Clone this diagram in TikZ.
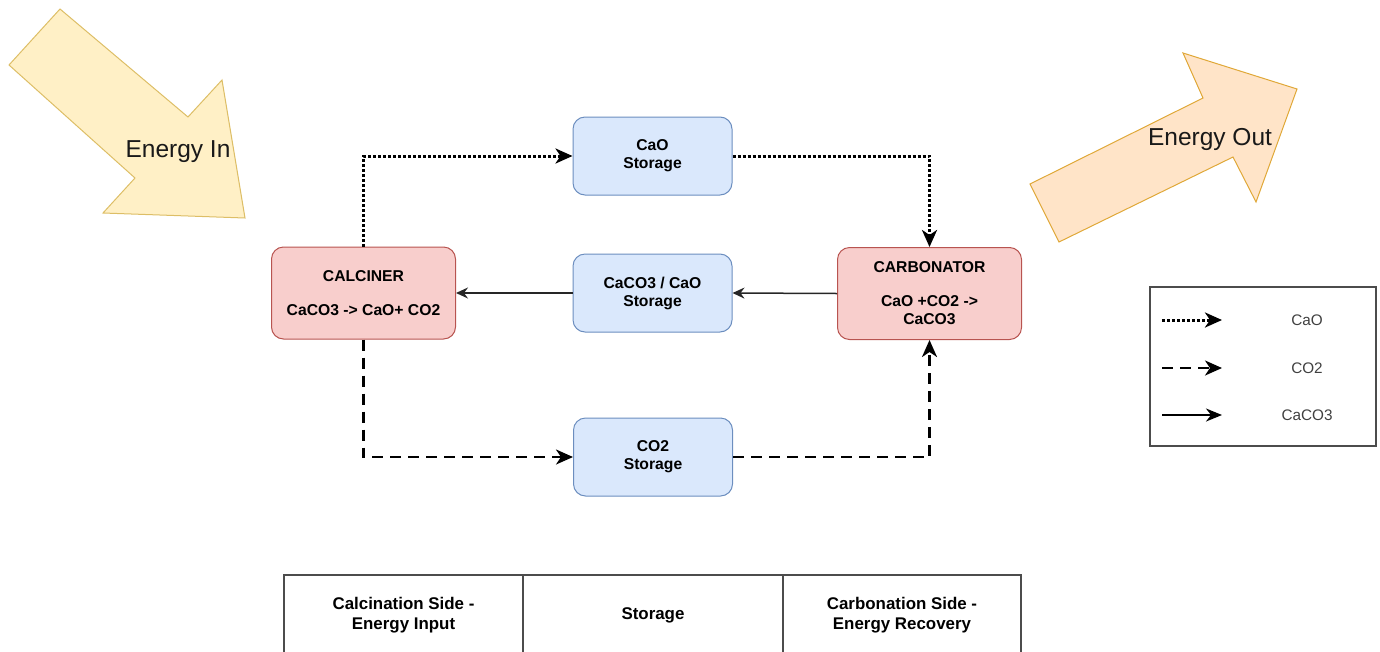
\documentclass[tikz,border=0pt]{standalone}
\usepackage{fontspec}
\setmainfont{Liberation Sans}
\usetikzlibrary{arrows.meta}
\definecolor{redfill}{HTML}{F8CECC}
\definecolor{reddraw}{HTML}{B85450}
\definecolor{bluefill}{HTML}{DAE8FC}
\definecolor{bluedraw}{HTML}{6C8EBF}
\definecolor{yellowfill}{HTML}{FFF0C6}
\definecolor{yellowdraw}{HTML}{DDBE66}
\definecolor{orangefill}{HTML}{FFE4C8}
\definecolor{orangedraw}{HTML}{E0A838}
\begin{document}
\begin{tikzpicture}
[
x=1pt, y=-1pt,
reactor/.style={rectangle, rounded corners=12pt, draw=reddraw, fill=redfill, line width=1pt, minimum width=184pt, minimum height=92pt, align=center, font=\bfseries\fontsize{15.7}{18}\selectfont},
store/.style={rectangle, rounded corners=12pt, draw=bluedraw, fill=bluefill, line width=1pt, minimum width=159pt, minimum height=78pt, align=center, font=\bfseries\fontsize{15.7}{18}\selectfont},
caoflow/.style={line width=3pt, dash pattern=on 3pt off 2pt, -{Stealth[length=17pt,width=15pt,inset=5pt]}},
co2flow/.style={line width=2.5pt, dash pattern=on 11pt off 7pt, -{Stealth[length=17pt,width=15pt,inset=5pt]}},
caco3flow/.style={line width=1.5pt, draw=black!85, -{Stealth[length=12pt,width=11pt,inset=4pt]}},
inarrow/.style={fill=yellowfill, draw=yellowdraw, line width=1pt},
outarrow/.style={fill=orangefill, draw=orangedraw, line width=1pt},
energytext/.style={font=\fontsize{24.5}{28}\selectfont, text=black!90},
legendbox/.style={rectangle, draw=black!70, line width=1.5pt, minimum width=226pt, minimum height=159pt},
legendtext/.style={font=\fontsize{15.3}{18}\selectfont, text=black!75},
tablecell/.style={rectangle, draw=black!70, line width=1.5pt, minimum height=80pt, align=center, font=\bfseries\fontsize{16.9}{20}\selectfont}
]
\useasboundingbox (0,0) rectangle (1380,651);
\clip (0,0) rectangle (1380,651);
%Energy arrows
\draw[inarrow] (60,9) -- (188,117) -- (222,80) -- (245,218) -- (103,213) -- (135,178) -- (9,65) -- cycle;
\draw[outarrow] (1030,184) -- (1203,98) -- (1183,53) -- (1297,89) -- (1256,202) -- (1233,157) -- (1059,242) -- cycle;
\node[energytext] at(178,152)	(ein) {Energy In};
\node[energytext] at(1210,139)	(eout) {Energy Out};
%Nodes
\node[reactor] at(363.5,293)	(calciner) {CALCINER\\[16pt]CaCO3 -> CaO+ CO2};
\node[reactor] at(929.5,293.5)	(carbonator) {CARBONATOR\\[16pt]CaO +CO2 ->\\CaCO3};
\node[store] at(652.5,156)		(caostore) {CaO\\Storage};
\node[store] at(652.5,293)		(mixstore) {CaCO3 / CaO\\Storage};
\node[store] at(653,457)		(co2store) {CO2\\Storage};
%Flows
\draw[caoflow] (calciner.north) |- (caostore.west);
\draw[caoflow] (caostore.east) -| (carbonator.north);
\draw[caco3flow] (carbonator.west) -- (mixstore.east);
\draw[caco3flow] (mixstore.west) -- (calciner.east);
\draw[co2flow] (calciner.south) |- (co2store.west);
\draw[co2flow] (co2store.east) -| (carbonator.south);
%Legend
\node[legendbox] at(1263,366.5)	(legend) {};
\coordinate (c1) at(1162,320);
\coordinate (c2) at(1162,368);
\coordinate (c3) at(1162,415);
\node[legendtext] at(1307,320)	(lcao) {CaO};
\node[legendtext] at(1307,368)	(lco2) {CO2};
\node[legendtext] at(1307,415)	(lcaco3) {CaCO3};
\draw[caoflow] (c1) -- ++(60,0) coordinate (d1);
\draw[co2flow] (c2) -- ++(60,0) coordinate (d2);
\draw[caco3flow, draw=black, line width=2pt, -{Stealth[length=16pt,width=13pt,inset=5pt]}] (c3) -- ++(60,0) coordinate (d3);
%Table
\node[tablecell, minimum width=239pt] at(403.5,615)	(calcside) {Calcination Side -\\Energy Input};
\node[tablecell, minimum width=260pt] at(653,615)	(storside) {Storage};
\node[tablecell, minimum width=238pt] at(902,615)	(carbside) {Carbonation Side -\\Energy Recovery};
\end{tikzpicture}
\end{document}
